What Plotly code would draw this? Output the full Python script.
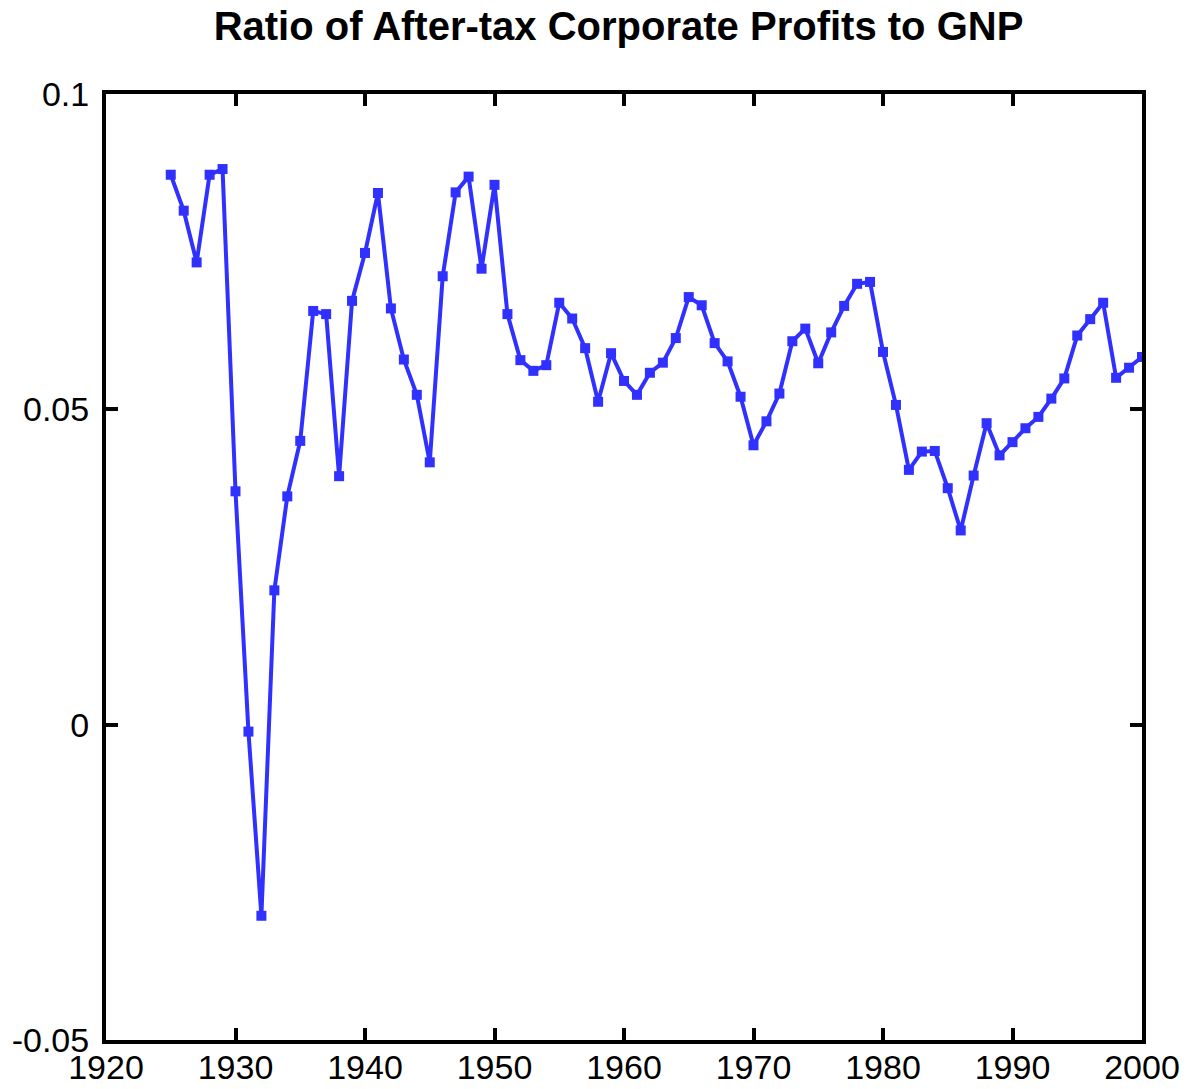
import plotly.graph_objects as go

years = list(range(1925, 2001))
ratio = [
    0.0872, 0.0815, 0.0733, 0.0872, 0.0881,  # 1925-1929
    0.0370, -0.0011, -0.0303, 0.0213, 0.0362, 0.0450, 0.0656, 0.0651, 0.0394, 0.0672,  # 1930s
    0.0748, 0.0843, 0.0660, 0.0579, 0.0523, 0.0416, 0.0711, 0.0844, 0.0869, 0.0723,  # 1940s
    0.0856, 0.0651, 0.0578, 0.0561, 0.0570, 0.0669, 0.0644, 0.0597, 0.0512, 0.0589,  # 1950s
    0.0545, 0.0523, 0.0558, 0.0574, 0.0613, 0.0678, 0.0665, 0.0605, 0.0576, 0.0520,  # 1960s
    0.0443, 0.0481, 0.0525, 0.0608, 0.0628, 0.0573, 0.0622, 0.0664, 0.0699, 0.0702,  # 1970s
    0.0591, 0.0507, 0.0404, 0.0433, 0.0434, 0.0375, 0.0308, 0.0395, 0.0478, 0.0427,  # 1980s
    0.0448, 0.0470, 0.0488, 0.0517, 0.0549, 0.0617, 0.0643, 0.0669, 0.0550, 0.0566,  # 1990s
    0.0583,  # 2000
]
x_ticks = [1920, 1930, 1940, 1950, 1960, 1970, 1980, 1990, 2000]
y_ticks = [-0.05, 0, 0.05, 0.1]
y_tick_text = ["-0.05", "0", "0.05", "0.1"]
title = "Ratio of After-tax Corporate Profits to GNP"

fig = go.Figure()
fig.add_trace(go.Scatter(
    x=years, y=ratio, mode="lines+markers",
    line=dict(color="#3030ff", width=4),
    marker=dict(symbol="square", size=10, color="#3030ff"),
    showlegend=False,
))

axis_common = dict(
    showgrid=False, zeroline=False, showline=True, linecolor="black", linewidth=4,
    mirror="allticks", ticks="inside", ticklen=12, tickwidth=4, tickcolor="black",
    automargin=False,
    tickfont=dict(family="Liberation Sans, Arial, sans-serif", size=34, color="black"),
)

fig.update_layout(
    width=1194, height=1089,
    paper_bgcolor="white", plot_bgcolor="white",
    margin=dict(l=106, r=52, t=94, b=49),
    title=dict(text="<b>" + title + "</b>", x=0.518, xanchor="center", y=1 - 26 / 1089, yanchor="middle",
               font=dict(family="Liberation Sans, Arial, sans-serif", size=40, color="black")),
    xaxis=dict(range=[1920, 2000], tickvals=x_ticks, ticklabelstandoff=-6, **axis_common),
    yaxis=dict(range=[-0.05, 0.1], tickvals=y_ticks, ticktext=y_tick_text, ticklabelstandoff=6, **axis_common),
)

fig.write_html("out.html", config={"displayModeBar": False},
               post_script="document.body.style.margin='0';")
